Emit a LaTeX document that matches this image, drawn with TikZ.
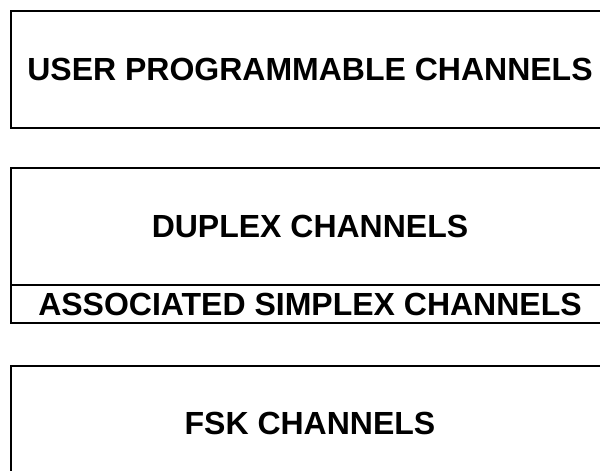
\documentclass[tikz,border=0pt]{standalone}
\usepackage{fontspec}
\setmainfont{Liberation Sans}
\usetikzlibrary{positioning}
\tikzset{%
  chanbox/.style  = {shape=rectangle, draw, line width=2pt,%
                     inner sep=0pt, outer sep=0pt,%
                     minimum width=598pt,%
                     font=\fontsize{32}{32}\selectfont\bfseries},%
  bigbox/.style   = {chanbox, minimum height=117pt},%
  thinbox/.style  = {chanbox, minimum height=38pt}%
}
\begin{document}
\begin{tikzpicture}[x=1pt,y=-1pt]
	\useasboundingbox (0,0) rectangle (600,471);
	% top block
	\node (user) [bigbox] at (310,69.5) {USER PROGRAMMABLE CHANNELS};
	% middle block
	\node (duplex) [bigbox] at (310,226.5) {DUPLEX CHANNELS};
	\node (assoc) [thinbox, below=0pt of duplex] {ASSOCIATED SIMPLEX CHANNELS};
	% bottom block
	\node (fsk) [chanbox, minimum height=114pt] at (310,423) {FSK CHANNELS};
\end{tikzpicture}
\end{document}
